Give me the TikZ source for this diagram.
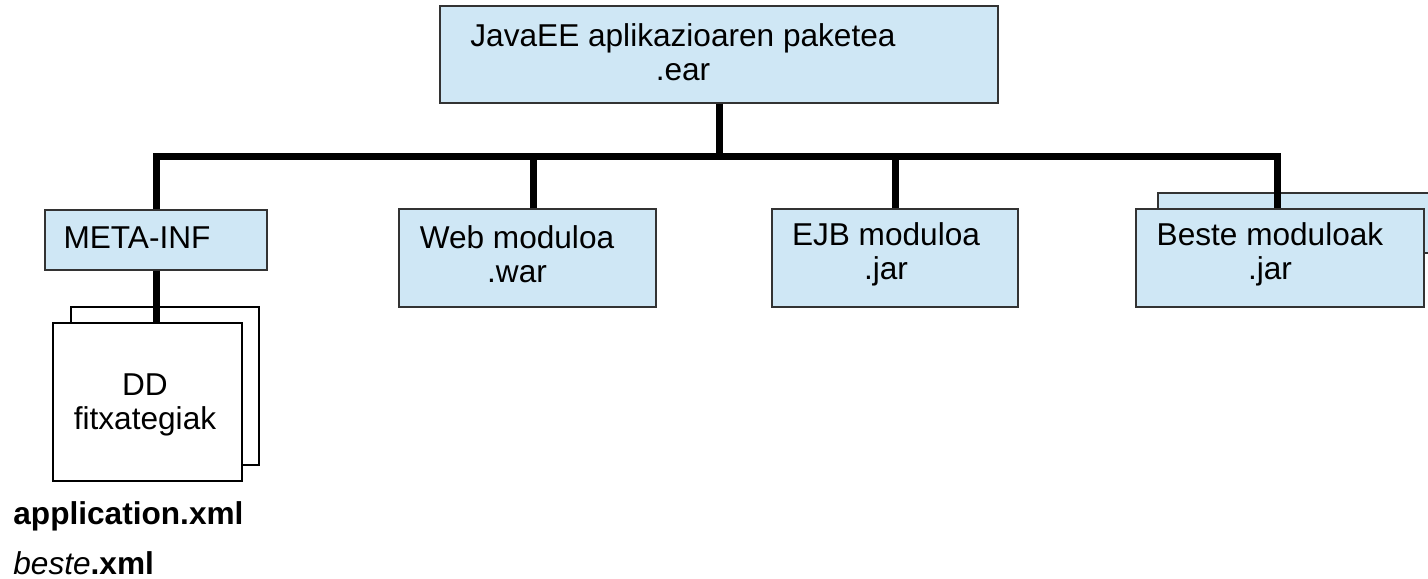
\documentclass[tikz,border=0pt]{standalone}
\usepackage{fontspec}
\setmainfont{Liberation Sans}
\definecolor{pkg_blue}{RGB}{207, 231, 245}
\tikzstyle{pkg}=[rectangle,fill=pkg_blue,draw=black!80,
  line width=0.6pt,inner sep=0pt]
\tikzstyle{doc}=[rectangle,fill=white,draw=black,
  line width=0.6pt,inner sep=0pt]
\tikzstyle{lbl}=[inner sep=0pt,align=center,font=\fontsize{15.8}{17}\selectfont]
\tikzstyle{bus}=[line width=3.5pt,line join=miter]
\begin{document}
\begin{tikzpicture}[x=0.5pt, y=-0.5pt]
    \clip (0, 0) rectangle (1428, 578);
    \node [style=pkg, minimum width=279pt, minimum height=48.5pt] (ear) at (719, 54.5) {};
    \node [style=pkg, minimum width=111pt, minimum height=30pt] (meta) at (156, 240) {};
    \node [style=pkg, minimum width=128.5pt, minimum height=49pt] (web) at (527.5, 258) {};
    \node [style=pkg, minimum width=123pt, minimum height=49pt] (ejb) at (895, 258) {};
    \node [style=pkg, minimum width=144pt, minimum height=30pt] (besteback) at (1302, 223) {};
    \node [style=pkg, minimum width=144pt, minimum height=49pt] (beste) at (1280, 258) {};
    \node [style=doc, minimum width=94pt, minimum height=79pt] (ddback) at (165, 386) {};
    \node [style=doc, minimum width=94.5pt, minimum height=79pt] (dd) at (147.5, 402) {};
    \coordinate (busl) at (155, 156.5);
    \coordinate (busr) at (1277, 156.5);
    \node [style=lbl] (eartxt) at (683, 52) {JavaEE aplikazioaren paketea\\.ear};
    \node [style=lbl] (metatxt) at (137, 238) {META-INF};
    \node [style=lbl] (webtxt) at (517, 254) {Web moduloa\\.war};
    \node [style=lbl] (ejbtxt) at (886, 254) {EJB moduloa\\.jar};
    \node [style=lbl] (bestetxt) at (1270, 254) {Beste moduloak\\.jar};
    \node [style=lbl] (ddtxt) at (145, 404.5) {DD\\fitxategiak};
    \node [style=lbl, anchor=base west, font=\fontsize{15.8}{17}\selectfont\bfseries] (appxml) at (13, 524) {application.xml};
    \node [style=lbl, anchor=base west] (bestexml) at (13, 574) {\textit{beste}\textbf{.xml}};
    \draw [style=bus] (ear.south) to (ear.south |- busl);
    \draw [style=bus] (meta.north) |- (busr) to (busr |- beste.north);
    \draw [style=bus] ([xshift=3pt]web.north) to ([xshift=3pt]web.north |- busl);
    \draw [style=bus] (ejb.north) to (ejb.north |- busl);
    \draw [style=bus] (meta.south) to (meta.south |- dd.north);
\end{tikzpicture}
\end{document}
